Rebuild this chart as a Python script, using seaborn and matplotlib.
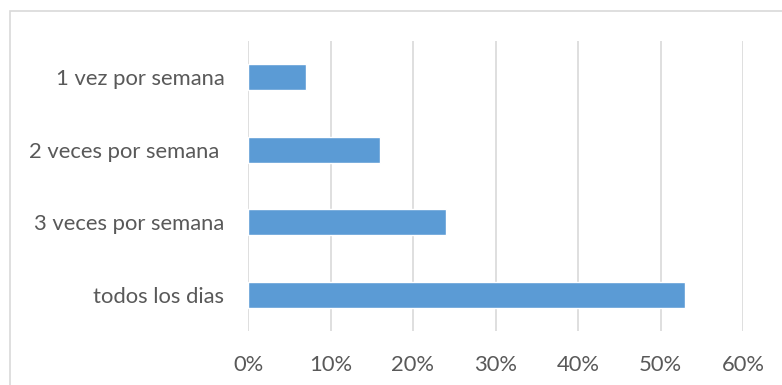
import matplotlib
matplotlib.use("Agg")
import matplotlib.pyplot as plt
from matplotlib.patches import Rectangle
from matplotlib.ticker import FuncFormatter
import seaborn as sns
import pandas as pd

categories = ["1 vez por semana", "2 veces por semana ", "3 veces por semana", "todos los dias"]
values = [7, 16, 24, 53]
x_ticks = [0, 10, 20, 30, 40, 50, 60]

sns.set_theme(style="white")
plt.rcParams["font.family"] = ["Lato", "DejaVu Sans"]

df = pd.DataFrame({"frecuencia": categories, "porcentaje": values})

fig = plt.figure(figsize=(7.82, 3.85), dpi=100)
ax = fig.add_axes([248 / 782, 1 - 331 / 385, (743 - 248) / 782, (331 - 41) / 385])

sns.barplot(data=df, y="frecuencia", x="porcentaje", orient="h", color="#5B9BD5",
            saturation=1, width=0.36, ax=ax, zorder=3)

ax.set_xlim(0, 60)
ax.set_ylim(3.5, -0.5)
ax.set_xticks(x_ticks)
ax.xaxis.set_major_formatter(FuncFormatter(lambda v, p: f"{v:.0f}%"))
ax.grid(axis="x", color="#D9D9D9", linewidth=1.2, zorder=0)
ax.grid(axis="y", visible=False)
for s in ax.spines.values():
    s.set_visible(False)
ax.set_xlabel("")
ax.set_ylabel("")
ax.tick_params(axis="both", length=0, labelsize=15.8, labelcolor="#595959")
ax.tick_params(axis="y", pad=17)
ax.tick_params(axis="x", pad=17)

# chart area frame
fig.patches.append(Rectangle((10 / 782, -0.1), 1.2, 1 - 11 / 385 + 0.1,
                             transform=fig.transFigure, fill=False,
                             edgecolor="#D9D9D9", linewidth=1.2))

fig.savefig("out.png", dpi=100)
